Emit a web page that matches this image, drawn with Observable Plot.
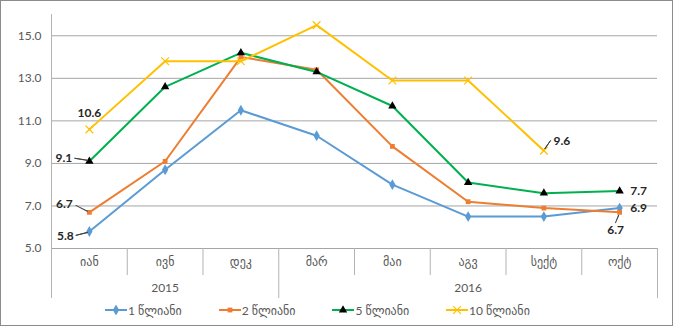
<!DOCTYPE html>
<html>
<head>
<meta charset="utf-8">
<script src="https://cdn.jsdelivr.net/npm/d3@7"></script>
<script src="https://cdn.jsdelivr.net/npm/@observablehq/plot@0.6"></script>
<style>
  html, body { margin: 0; padding: 0; background: #fff; }
  #chart { position: relative; width: 673px; height: 326px; background: #fff; overflow: hidden;
           font-family: Lato, "DejaVu Sans", sans-serif; color: #595959; }
  #frame { position: absolute; left: 0; top: 0; width: 673px; height: 326px; box-sizing: border-box;
           border: 1px solid #8c8c8c; pointer-events: none; }
  #legend { position: absolute; left: 0; top: 300px; width: 673px; height: 20px; }
  .item { position: absolute; top: 0; height: 20px; display: flex; align-items: center; font-size: 12px; white-space: nowrap; }
  .item svg { margin-right: 1px; }
</style>
</head>
<body>
<div id="chart"><div id="plot"></div><div id="legend"></div><div id="frame"></div></div>
<script>
// ---- data ----
const months = ["იან", "ივნ", "დეკ", "მარ", "მაი", "აგვ", "სექტ", "ოქტ"];
const years = ["2015", "2015", "2015", "2016", "2016", "2016", "2016", "2016"];
const seriesNames = ["1 წლიანი", "2 წლიანი", "5 წლიანი", "10 წლიანი"];
const values1y = [5.8, 8.7, 11.5, 10.3, 8.0, 6.5, 6.5, 6.9];
const values2y = [6.7, 9.1, 14.0, 13.4, 9.8, 7.2, 6.9, 6.7];
const values5y = [9.1, 12.6, 14.2, 13.3, 11.7, 8.1, 7.6, 7.7];
const values10y = [10.6, 13.8, 13.8, 15.5, 12.9, 12.9, 9.6, null];
const yTicks = [5, 7, 9, 11, 13, 15];
const yDomain = [5, 16];

// ---- styles ----
const seriesColors = ["#5B9BD5", "#ED7D31", "#00B050", "#FFC000"];
const markerStyles = [
  {symbol: "diamond", r: 3.3, fill: seriesColors[0], stroke: "none", strokeWidth: 0},
  {symbol: "square", r: 2.7, fill: seriesColors[1], stroke: "none", strokeWidth: 0},
  {symbol: "triangle", r: 3.1, fill: "#000", stroke: "none", strokeWidth: 0},
  {symbol: "times", r: 3.6, fill: "none", stroke: seriesColors[3], strokeWidth: 1.2}
];
// annotation placement (series index, month index, label offsets, leader line)
const annotations = [
  {s: 0, i: 0, dx: -24, dy: 5, lead: {rotate: 256, length: 12, dx: -2, dy: 1}},
  {s: 1, i: 0, dx: -25, dy: -8, lead: {rotate: -63, length: 13, dx: -2, dy: -1}},
  {s: 2, i: 0, dx: -25.5, dy: -3, lead: {rotate: -81, length: 13, dx: -2, dy: -1}},
  {s: 3, i: 0, dx: 0, dy: -16, lead: null},
  {s: 3, i: 6, dx: 18, dy: -9, lead: {rotate: 35, length: 10, dx: 1, dy: -2}},
  {s: 2, i: 7, dx: 19, dy: 0, lead: null},
  {s: 0, i: 7, dx: 19, dy: 0, lead: null},
  {s: 1, i: 7, dx: -4, dy: 18, lead: {rotate: 203, length: 8, dx: -1, dy: 3}}
];

const seriesValues = [values1y, values2y, values5y, values10y];
const rows = seriesValues.flatMap((vals, s) =>
  vals.map((v, i) => ({series: seriesNames[s], s, i, value: v})).filter(d => d.value != null));

const xDomain = [-0.5, months.length - 0.5];
const boundaries = d3.range(months.length + 1).map(k => k - 0.5);
const yearBounds = boundaries.filter((b, k) => k === 0 || k === months.length || years[k] !== years[k - 1]);
const monthBounds = boundaries.filter(b => !yearBounds.includes(b));
const yearGroups = d3.groups(months.map((m, i) => ({i, year: years[i]})), d => d.year)
  .map(([year, items]) => ({year, x: d3.mean(items, d => d.i)}));

const font = "Lato, 'DejaVu Sans', sans-serif";
const gray = "#595959";
const lineGray = "#b3b3b3";

const marks = [
  Plot.ruleY(yTicks, {y: d => d, stroke: "#a6a6a6", strokeWidth: 1}),
  Plot.ruleX([xDomain[0]], {x: d => d, stroke: lineGray}),
  Plot.axisX(monthBounds, {tickSize: 27, tickFormat: () => "", stroke: lineGray, strokeOpacity: 1, label: null}),
  Plot.axisX(yearBounds, {tickSize: 50, tickFormat: () => "", stroke: lineGray, strokeOpacity: 1, label: null}),
  Plot.text(yTicks, {y: d => d, frameAnchor: "left", textAnchor: "end", dx: -10, text: d => d3.format(".1f")(d),
    fill: gray, fontSize: 12, fontFamily: font}),
  Plot.text(months, {x: (d, i) => i, frameAnchor: "bottom", dy: 17, text: d => d, fill: gray, fontSize: 12, fontFamily: font}),
  Plot.text(yearGroups, {x: "x", frameAnchor: "bottom", dy: 43, text: "year", fill: gray, fontSize: 12, fontFamily: font})
];

seriesNames.forEach((name, s) => {
  const data = rows.filter(d => d.s === s);
  marks.push(Plot.line(data, {x: "i", y: "value", stroke: seriesColors[s], strokeWidth: 2}));
  const m = markerStyles[s];
  marks.push(Plot.dot(data, {x: "i", y: "value", symbol: m.symbol, r: m.r, fill: m.fill, stroke: m.stroke, strokeWidth: m.strokeWidth}));
});

annotations.forEach(a => {
  const d = rows.find(r => r.s === a.s && r.i === a.i);
  if (!d) return;
  if (a.lead) {
    marks.push(Plot.vector([d], {x: "i", y: "value", rotate: a.lead.rotate, length: a.lead.length,
      anchor: "start", shape: "spike", r: 0.15, stroke: "#404040", fill: "#404040", strokeWidth: 0.9,
      dx: a.lead.dx, dy: a.lead.dy}));
  }
  marks.push(Plot.text([d], {x: "i", y: "value", text: r => d3.format(".1f")(r.value), dx: a.dx, dy: a.dy,
    fill: "#262626", fontWeight: "bold", fontSize: 12, fontFamily: font}));
});

const chart = Plot.plot({
  width: 673,
  height: 300,
  marginTop: 14,
  marginBottom: 52,
  marginLeft: 51,
  marginRight: 16,
  x: {type: "linear", domain: xDomain, axis: null},
  y: {domain: yDomain, axis: null},
  style: {fontFamily: font, fontSize: "12px", background: "transparent", overflow: "visible"},
  marks
});
document.getElementById("plot").appendChild(chart);

// ---- legend ----
const symbolTypes = {diamond: d3.symbolDiamond, square: d3.symbolSquare, triangle: d3.symbolTriangle, times: d3.symbolTimes};
const legend = d3.select("#legend");
seriesNames.forEach((name, s) => {
  const item = legend.append("div").attr("class", "item").style("left", (105 + s * 113.7) + "px");
  const sw = item.append("svg").attr("width", 22).attr("height", 10);
  sw.append("line").attr("x1", 0).attr("x2", 22).attr("y1", 5).attr("y2", 5)
    .attr("stroke", seriesColors[s]).attr("stroke-width", 2);
  const m = markerStyles[s];
  sw.append("path").attr("transform", "translate(11,5)")
    .attr("d", d3.symbol(symbolTypes[m.symbol], Math.PI * m.r * m.r)())
    .attr("fill", m.fill).attr("stroke", m.stroke).attr("stroke-width", m.strokeWidth);
  item.append("span").text(name);
});
</script>
</body>
</html>
